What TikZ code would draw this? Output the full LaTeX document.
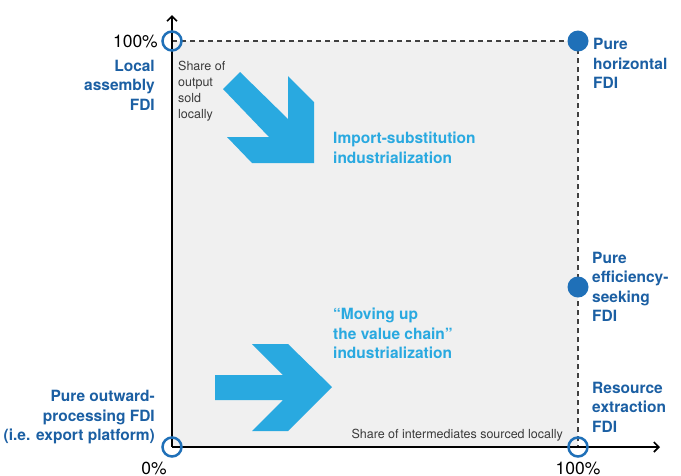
\documentclass[tikz,border=0pt]{standalone}
\usepackage{fontspec}
\setmainfont{TeX Gyre Heros}
\usetikzlibrary{arrows.meta}

\definecolor{chevblue}{HTML}{29A9E0}
\definecolor{fdiblue}{HTML}{1B5FA3}
\definecolor{dotblue}{HTML}{1F70B8}
\definecolor{panelgray}{HTML}{F0F0F0}
\definecolor{notegray}{HTML}{3A3A3A}

\tikzset{
  fdilabel/.style={text=fdiblue, inner sep=0pt, font=\bfseries\fontsize{15.5}{19.5}\selectfont},
  pathlabel/.style={text=chevblue, inner sep=0pt, align=left, font=\bfseries\fontsize{15.5}{19.5}\selectfont},
  axisnote/.style={text=notegray, inner sep=0pt, align=left, font=\fontsize{12.5}{16}\selectfont},
  pct/.style={inner sep=0pt, font=\fontsize{17.5}{20}\selectfont},
  opendot/.style={circle, draw=dotblue, line width=2.5pt, minimum size=19pt, inner sep=0pt},
  fulldot/.style={circle, fill=dotblue, minimum size=21pt, inner sep=0pt},
  axisline/.style={line width=2pt, -{Straight Barb[length=5pt,width=10pt,line width=1.6pt]}},
  border/.style={dashed, dash pattern=on 5pt off 4pt, line width=1.5pt, draw=black!75}
}

\begin{document}
\begin{tikzpicture}[x=1pt, y=-1pt]
    \useasboundingbox (0,0) rectangle (681,475);

    % corners of the square
    \coordinate (o) at (172, 447);
    \coordinate (ytip) at (172, 15);
    \coordinate (xtip) at (660, 447);
    \coordinate (ul) at (172, 41);
    \coordinate (ur) at (578, 41);
    \coordinate (mr) at (578, 287);
    \coordinate (lr) at (578, 447);

    \fill [panelgray] (o) rectangle (ur);
    \draw [border] (ul) -- (ur) -- (lr);

    % the two paths
    \fill [chevblue] (240,72) -- (288,119) -- (288,76) -- (314,102) -- (314,163)
        -- (252,163) -- (227,137) -- (269,137) -- (223,89) -- cycle;
    \fill [chevblue] (215,375) -- (283,375) -- (252,344) -- (288,344) -- (332,387)
        -- (288,431) -- (252,431) -- (283,400) -- (215,400) -- cycle;

    \draw [axisline] (o) -- (ytip);
    \draw [axisline] (o) -- (xtip);

    \node [opendot] (dot-ul) at (ul) {};
    \node [opendot] (dot-o) at (o) {};
    \node [opendot] (dot-lr) at (lr) {};
    \node [fulldot] (dot-ur) at (ur) {};
    \node [fulldot] (dot-mr) at (mr) {};

    \node [pct, anchor=north east] (top-pct) at (158, 35) {100\%};
    \node [pct, anchor=north] (zero-pct) at (154, 462) {0\%};
    \node [pct, anchor=north] (right-pct) at (578, 462) {100\%};

    \node [fdilabel, align=right, anchor=north east] (local) at (155, 59.5) {Local\\assembly\\FDI};
    \node [fdilabel, align=right, anchor=north east] (outward) at (155, 390) {Pure outward-\\processing FDI\\(i.e. export platform)};
    \node [fdilabel, align=left, anchor=north west] (horizontal) at (593, 38) {Pure\\horizontal\\FDI};
    \node [fdilabel, align=left, anchor=north west] (efficiency) at (592, 251.5) {Pure\\efficiency-\\seeking\\FDI};
    \node [fdilabel, align=left, anchor=north west] (resource) at (592, 381.5) {Resource\\extraction\\FDI};

    \node [pathlabel, anchor=north west] (isi) at (333, 132) {Import-substitution\\industrialization};
    \node [pathlabel, anchor=north west] (chain) at (333, 308) {``Moving up\\the value chain''\\industrialization};

    \node [axisnote, anchor=north west] (yname) at (178, 61) {Share of\\output\\sold\\locally};
    \node [axisnote, anchor=north east] (xname) at (563, 429) {Share of intermediates sourced locally};

\end{tikzpicture}
\end{document}
